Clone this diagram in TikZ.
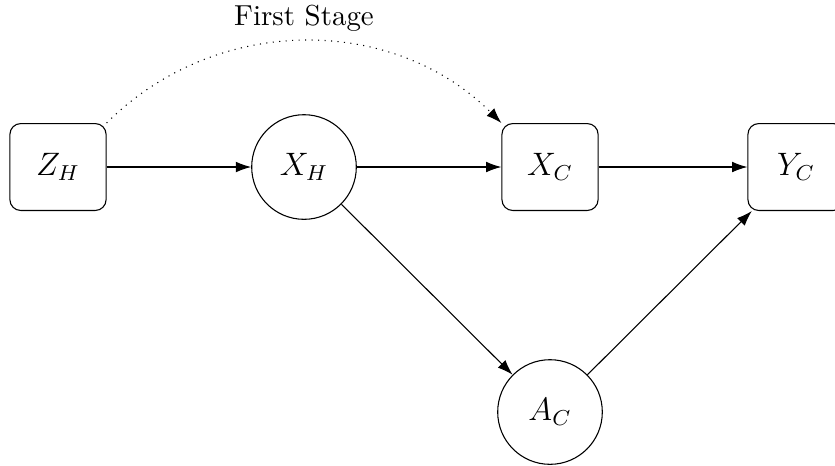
\documentclass[tikz,border=0pt]{standalone}
\usetikzlibrary{arrows.meta}
\begin{document}
\begin{tikzpicture}[x=0.013cm,y=0.013cm,
        box/.style={draw,rounded corners,font=\large,minimum width=1.25cm,minimum height=1.13cm},
        var/.style={draw,circle,font=\large,minimum size=1.36cm},
        link/.style={-{Latex[length=2mm,width=1.4mm]}}]
    \useasboundingbox (0,0) rectangle (835,-465);

    \node[box] (zh) at (58,-167) {$Z_H$};
    \node[var] (xh) at (304,-167) {$X_H$};
    \node[box] (xc) at (550,-167) {$X_C$};
    \node[box] (yc) at (796,-167) {$Y_C$};
    \node[var] (ac) at (550,-412) {$A_C$};

    \draw[link] (zh) -- (xh);
    \draw[link] (xh) -- (xc);
    \draw[link] (xc) -- (yc);
    \draw[link] (xh) -- (ac);
    \draw[link] (ac) -- (yc);
    \draw[link,dotted] (zh.north east) to[bend left=45] node[midway,above,font=\fontsize{10.7}{13}\selectfont] {First Stage} (xc.north west);
\end{tikzpicture}
\end{document}
